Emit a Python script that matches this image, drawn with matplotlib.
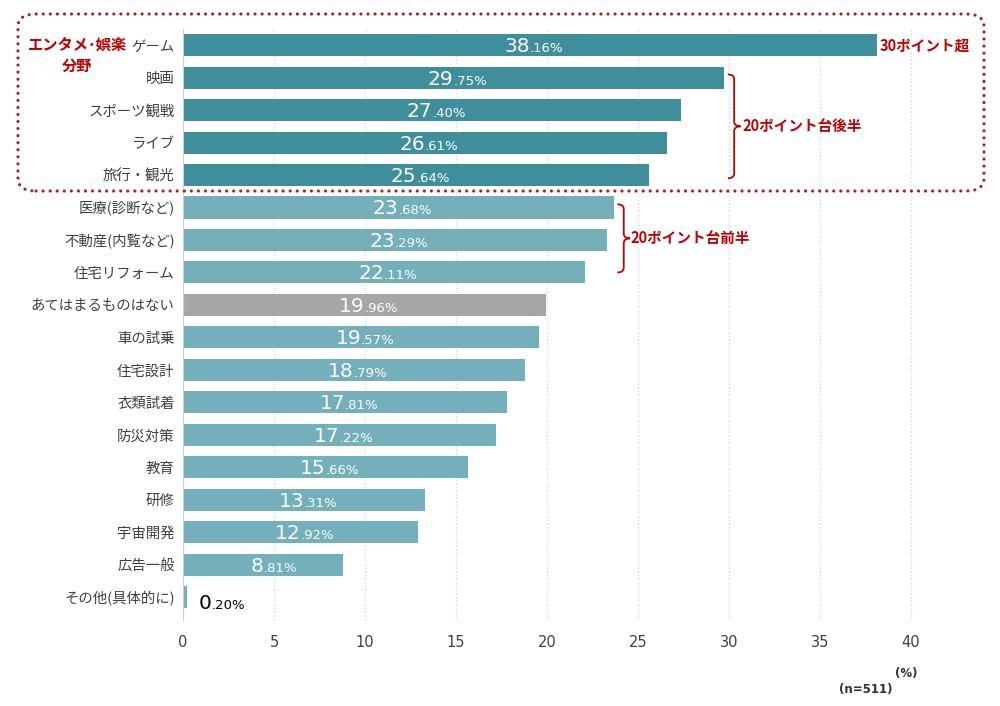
import matplotlib
matplotlib.use("Agg")
import matplotlib.pyplot as plt
from matplotlib.patches import FancyBboxPatch, PathPatch
from matplotlib.path import Path

plt.rcParams['font.family'] = ['Noto Sans CJK JP', 'DejaVu Sans']

# データ（上から順）
categories = ["ゲーム", "映画", "スポーツ観戦", "ライブ", "旅行・観光",
              "医療(診断など)", "不動産(内覧など)", "住宅リフォーム",
              "あてはまるものはない", "車の試乗", "住宅設計", "衣類試着",
              "防災対策", "教育", "研修", "宇宙開発", "広告一般", "その他(具体的に)"]
values = [38.16, 29.75, 27.40, 26.61, 25.64, 23.68, 23.29, 22.11, 19.96,
          19.57, 18.79, 17.81, 17.22, 15.66, 13.31, 12.92, 8.81, 0.20]
groups = ["ent"] * 5 + ["other"] * 3 + ["none"] + ["other"] * 9

colors = {"ent": "#3f8e9b", "other": "#74b0bb", "none": "#a6a6a6"}
red = "#c00000"

fig = plt.figure(figsize=(10, 7.06), dpi=100)
ax = fig.add_axes([0.183, 0.122, 0.764, 0.837])

ypos = list(range(len(values)))
ax.barh(ypos, values, height=0.68, color=[colors[g] for g in groups], zorder=2)
ax.set_ylim(17.7, -0.5)
ax.set_xlim(0, 42)

ax.set_xticks([0, 5, 10, 15, 20, 25, 30, 35, 40])
ax.set_yticks(ypos)
ax.set_yticklabels(categories, fontsize=10.4, color="#404040")
for t in ax.get_xticklabels():
    t.set_family("DejaVu Sans")
ax.tick_params(axis="x", length=0, labelsize=10.5, labelcolor="#404040", pad=11)
ax.tick_params(axis="y", length=0, pad=6)
for s in ["top", "right", "bottom"]:
    ax.spines[s].set_visible(False)
ax.spines["left"].set_color("#d0d0d0")
ax.grid(axis="x", linestyle=":", color="#d8d8d8", linewidth=1, zorder=0)

# 値ラベル（整数部は大きく、小数部は小さく）
for y, v in zip(ypos, values):
    ip, dp = f"{v:.2f}".split(".")
    if v > 2:
        x, dx, dy, c = v / 2, 0, -5, "white"
    else:
        x, dx, dy, c = v, 18, -8.5, "black"
    ax.annotate(ip, (x, y), xytext=(dx, dy), textcoords="offset points",
                ha="right", va="baseline", fontsize=14.5, color=c, zorder=3,
                family="DejaVu Sans")
    ax.annotate("." + dp + "%", (x, y), xytext=(dx, dy), textcoords="offset points",
                ha="left", va="baseline", fontsize=9.5, color=c, zorder=3,
                family="DejaVu Sans")


def brace(x, y0, y1, w=0.35):
    ym = (y0 + y1) / 2
    verts = [(x, y0), (x + w, y0), (x + w, y0 + 0.15),
             (x + w, ym - 0.15), (x + w, ym), (x + 2 * w, ym),
             (x + w, ym), (x + w, ym + 0.15),
             (x + w, y1 - 0.15), (x + w, y1), (x, y1)]
    codes = [Path.MOVETO, Path.CURVE3, Path.CURVE3,
             Path.LINETO, Path.CURVE3, Path.CURVE3,
             Path.CURVE3, Path.CURVE3,
             Path.LINETO, Path.CURVE3, Path.CURVE3]
    ax.add_patch(PathPatch(Path(verts, codes), fill=False, edgecolor=red,
                           linewidth=1.3, clip_on=False, zorder=4))


brace(values[1] + 0.2, 0.9, 4.1)
brace(values[5] + 0.2, 4.9, 7.0)
ax.text(values[0] + 0.15, 0, "30ポイント超", color=red, fontsize=10.5,
        fontweight="bold", va="center", ha="left")
ax.text(values[1] + 1.0, 2.5, "20ポイント台後半", color=red, fontsize=10.5,
        fontweight="bold", va="center", ha="left")
ax.text(values[5] + 0.9, 5.95, "20ポイント台前半", color=red, fontsize=10.5,
        fontweight="bold", va="center", ha="left")

# エンタメ枠
box = FancyBboxPatch((0.018, 1 - 191 / 706), 0.966, 177 / 706,
                     boxstyle="round,pad=0,rounding_size=0.018",
                     transform=fig.transFigure, fill=False, edgecolor="#a82020",
                     linewidth=2.3, linestyle=(0, (0.01, 2.2)),
                     capstyle="round", zorder=5)
fig.patches.append(box)
fig.text(0.077, 1 - 45 / 706, "エンタメ･娯楽", color=red, fontsize=11,
         fontweight="bold", ha="center", va="center")
fig.text(0.077, 1 - 66 / 706, "分野", color=red, fontsize=11,
         fontweight="bold", ha="center", va="center")

fig.text(0.918, 1 - 673 / 706, "(%)", fontsize=8.5, fontweight="bold",
         color="#333333", ha="right", va="center", family="DejaVu Sans")
fig.text(0.893, 1 - 690 / 706, "(n=511)", fontsize=8.5, fontweight="bold",
         color="#333333", ha="right", va="center", family="DejaVu Sans")

fig.savefig("out.png", dpi=100)
